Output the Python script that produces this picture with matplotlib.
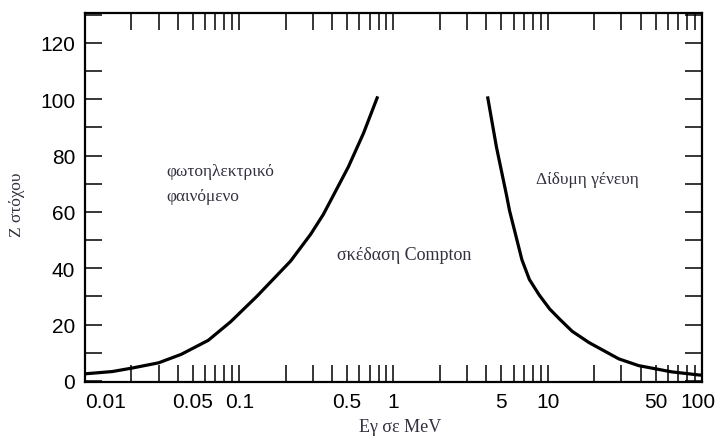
import matplotlib.pyplot as plt
from matplotlib.transforms import ScaledTranslation

# Boundary curves, photon energy (MeV) vs target atomic number Z
photo_E = [0.01, 0.015, 0.02, 0.03, 0.042, 0.063, 0.088, 0.13, 0.215, 0.29,
           0.35, 0.40, 0.51, 0.64, 0.79]
photo_Z = [2.5, 3.3, 4.5, 6.4, 9.4, 14.4, 21, 30, 42.5, 52,
           59, 65, 76, 88, 101]

pair_E = [4.07, 4.65, 5.4, 5.65, 6.8, 7.6, 8.8, 10.3, 11.9, 14.4, 18.5, 28.9, 38.9, 63.5, 95, 100]
pair_Z = [101, 83, 66, 60.5, 43, 36, 30.5, 25.5, 22, 17.6, 13.6, 7.8, 5.4, 3.2, 2.1, 2.0]

x_major = [0.01, 0.05, 0.1, 0.5, 1, 5, 10, 50, 100]
x_labels = ['0.01', '0.05', '0.1', '0.5', '1', '5', '10', '50', '100']
x_minor = [k * 10.0 ** d for d in range(-2, 2) for k in (2, 3, 4, 6, 7, 8, 9)]
y_major = list(range(0, 121, 20))
y_minor = list(range(10, 131, 20))

text_color = '#33303f'
serif = ['Liberation Serif', 'DejaVu Serif']

fig = plt.figure(figsize=(7.18, 4.39), dpi=100)
ax = fig.add_axes([0.1184, 0.1276, 0.8593, 0.8405])

ax.plot(photo_E, photo_Z, color='black', lw=2.3, solid_capstyle='butt')
ax.plot(pair_E, pair_Z, color='black', lw=2.3, solid_capstyle='butt')

ax.set_xscale('log')
ax.set_xlim(0.01, 100)
ax.set_ylim(-0.4, 130.6)

ax.set_xticks(x_major, x_labels)
ax.set_xticks(x_minor, minor=True)
ax.set_yticks(y_major)
ax.set_yticks(y_minor, minor=True)

ax.tick_params(which='both', direction='in', length=12, width=1.1,
               top=True, right=True, labelsize=15, pad=7)
for lab in ax.get_xticklabels() + ax.get_yticklabels():
    lab.set_family(['Liberation Sans', 'DejaVu Sans'])
ax.get_xticklabels()[0].set_ha('left')
# keep the last label inside the figure
last = ax.get_xticklabels()[-1]
last.set_transform(last.get_transform() + ScaledTranslation(-4 / 100, 0, fig.dpi_scale_trans))

for sp in ax.spines.values():
    sp.set_linewidth(1.6)

# Region names
ax.text(0.0336, 74.5, 'φωτοηλεκτρικό', fontsize=12.5, family=serif,
        color=text_color, va='center')
ax.text(0.0336, 65.7, 'φαινόμενο', fontsize=12.5, family=serif,
        color=text_color, va='center')
ax.text(0.432, 45, 'σκέδαση Compton', fontsize=13, family=serif,
        color=text_color, va='center')
ax.text(8.43, 71.7, 'Δίδυμη γένευη', fontsize=12.5, family=serif,
        color=text_color, va='center')

# Axis titles
fig.text(400 / 718, 1 - 428 / 439, 'Εγ σε MeV', fontsize=13, family=serif,
         color=text_color, ha='center', va='center')
fig.text(17 / 718, 1 - 205 / 439, 'Ζ στόχου', fontsize=12.5, family=serif,
         color=text_color, ha='center', va='center', rotation=90)

fig.savefig('out.png', dpi=100)
